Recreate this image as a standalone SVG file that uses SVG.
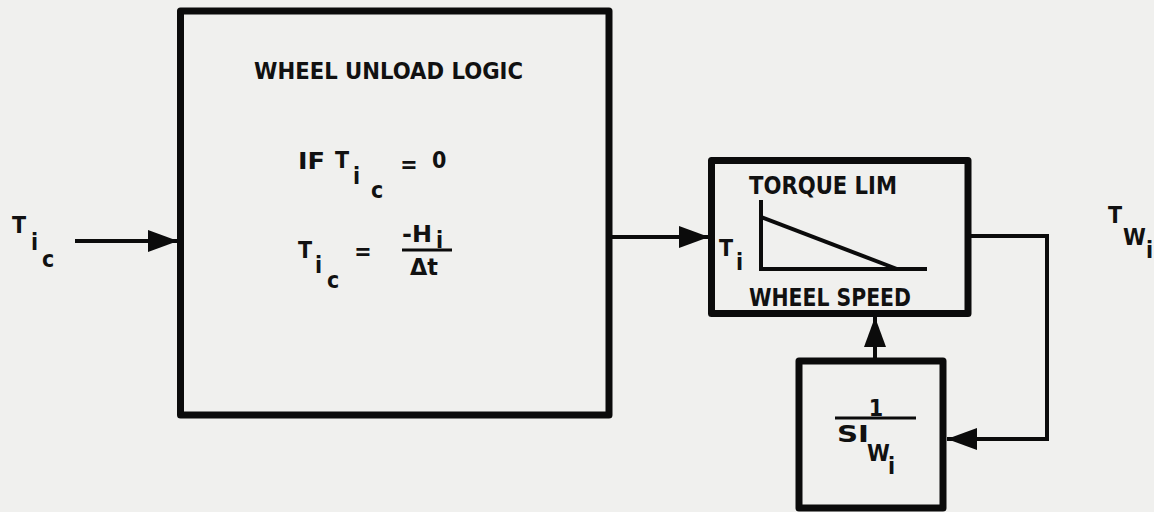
<svg xmlns="http://www.w3.org/2000/svg" width="1154" height="512" viewBox="0 0 1154 512">
<style>
.box{fill:none;stroke:#0b0b0b;stroke-width:7;stroke-linejoin:round}
.wire{fill:none;stroke:#0b0b0b;stroke-width:4;stroke-linejoin:miter}
.t{font-family:"DejaVu Sans Condensed","DejaVu Sans",sans-serif;font-weight:bold;fill:#111;font-size:23px}
.big{font-size:25px}
.mid{text-anchor:middle}
</style>
<defs>
<marker id="ah" markerUnits="userSpaceOnUse" markerWidth="32" markerHeight="24" refX="30" refY="11" orient="auto">
<path d="M0,0 L30,11 L0,22 z" fill="#0b0b0b"/>
</marker>
</defs>
<rect x="0" y="0" width="1154" height="512" fill="#f0f0ee"/>

<g id="connectors">
<line class="wire" x1="75" y1="241" x2="178" y2="241" marker-end="url(#ah)"/>
<line class="wire" x1="609" y1="237" x2="709" y2="237" marker-end="url(#ah)"/>
<polyline class="wire" points="968,236 1047,236 1047,439 947,439" marker-end="url(#ah)"/>
<line class="wire" x1="875" y1="361" x2="875" y2="317" marker-end="url(#ah)"/>
</g>

<g id="input-label">
<text class="t" x="12" y="233">T</text>
<text class="t" x="31" y="250">i</text>
<text class="t" x="42" y="267">c</text>
</g>

<g id="wheel-unload-logic">
<rect class="box" x="180.5" y="11" width="428.5" height="404"/>
<text class="t" x="254" y="79" textLength="269" lengthAdjust="spacingAndGlyphs">WHEEL UNLOAD LOGIC</text>
<text class="t" x="298" y="169" textLength="27" lengthAdjust="spacingAndGlyphs">IF</text>
<text class="t" x="335" y="168">T</text>
<text class="t" x="353" y="184">i</text>
<text class="t" x="371" y="198">c</text>
<text class="t mid" x="409" y="172">=</text>
<text class="t" x="432" y="168">0</text>
<text class="t" x="298" y="258">T</text>
<text class="t" x="315" y="273">i</text>
<text class="t" x="327" y="288">c</text>
<text class="t mid" x="363" y="259">=</text>
<text class="t" x="402" y="242" textLength="30" lengthAdjust="spacingAndGlyphs">-H</text>
<text class="t" x="436" y="248">i</text>
<line x1="402" y1="250" x2="452" y2="250" stroke="#0b0b0b" stroke-width="3"/>
<text class="t" x="410" y="275" textLength="28" lengthAdjust="spacingAndGlyphs">Δt</text>
</g>

<g id="torque-lim">
<rect class="box" x="711.5" y="160.5" width="256.5" height="153"/>
<text class="t big" x="749" y="194" textLength="148" lengthAdjust="spacingAndGlyphs">TORQUE LIM</text>
<text class="t" x="719" y="256">T</text>
<text class="t" x="736" y="270">i</text>
<polyline fill="none" stroke="#0b0b0b" stroke-width="4" points="761,200 761,269 927,269"/>
<line x1="761" y1="217" x2="897" y2="269" stroke="#0b0b0b" stroke-width="4"/>
<text class="t big" x="749" y="306" textLength="162" lengthAdjust="spacingAndGlyphs">WHEEL SPEED</text>
</g>

<g id="integrator">
<rect class="box" x="799" y="361" width="144" height="147"/>
<text class="t mid" x="876" y="416">1</text>
<line x1="835" y1="418" x2="916" y2="418" stroke="#0b0b0b" stroke-width="3"/>
<text class="t" x="837" y="442" textLength="32" lengthAdjust="spacingAndGlyphs">SI</text>
<text class="t" x="867" y="461">W<tspan x="888" y="474">i</tspan></text>
</g>

<g id="output-label">
<text class="t" x="1108" y="223">T<tspan x="1123" y="245">W</tspan><tspan x="1146" y="258">i</tspan></text>
</g>
</svg>
